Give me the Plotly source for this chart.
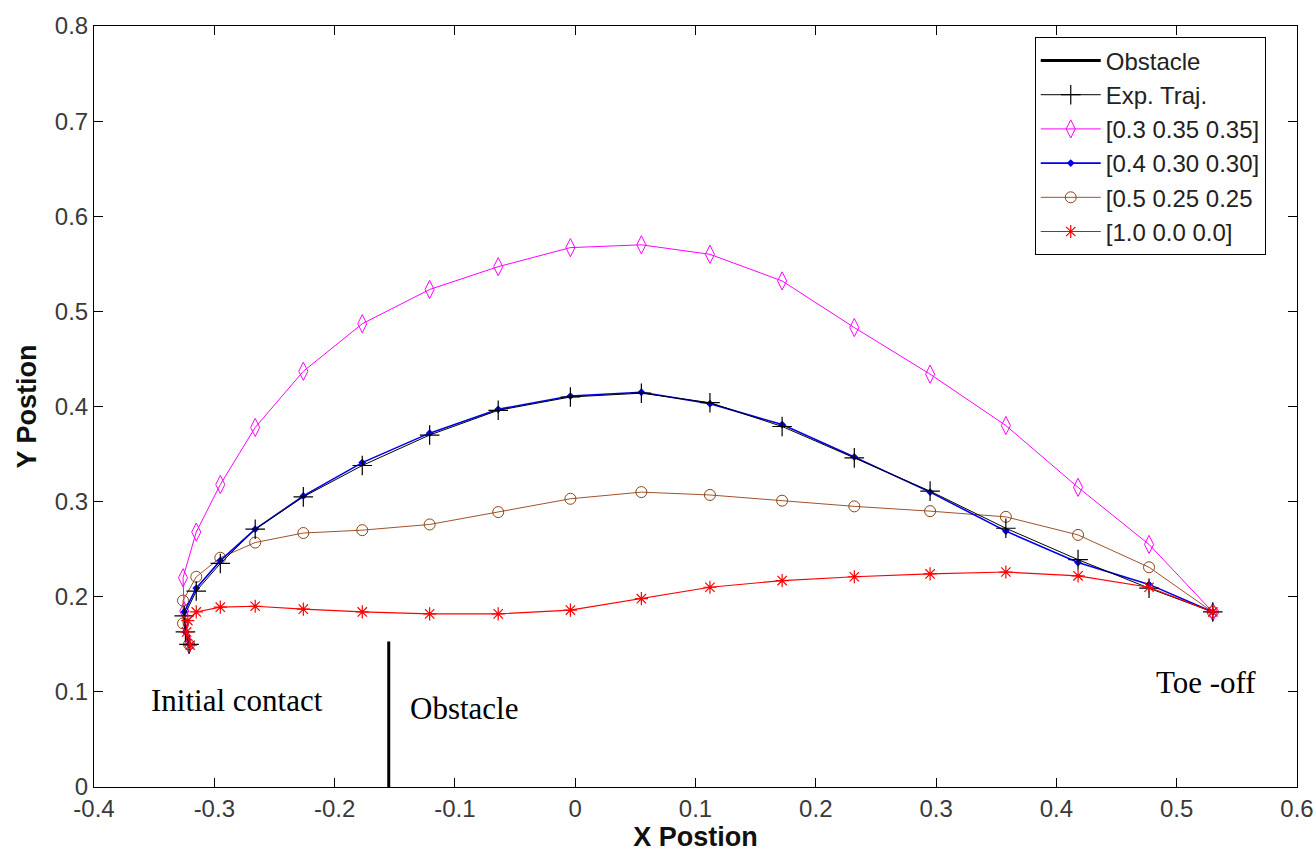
import plotly.graph_objects as go

# Obstacle position
obstacle_x = [-0.155, -0.155]
obstacle_y = [0.0, 0.153]

# Experimental trajectory
exp_x = [-0.321, -0.324, -0.325, -0.315, -0.295, -0.266, -0.226, -0.177, -0.121, -0.064,
         -0.004, 0.055, 0.112, 0.172, 0.232, 0.295, 0.358, 0.418, 0.477, 0.530]
exp_y = [0.150, 0.163, 0.180, 0.206, 0.235, 0.271, 0.305, 0.338, 0.370, 0.396,
         0.410, 0.414, 0.404, 0.379, 0.346, 0.311, 0.272, 0.239, 0.209, 0.184]

# Weighting [0.3 0.35 0.35]
w1_x = [-0.321, -0.325, -0.326, -0.315, -0.295, -0.266, -0.226, -0.177, -0.121, -0.064,
        -0.004, 0.055, 0.112, 0.172, 0.232, 0.295, 0.358, 0.418, 0.477, 0.530]
w1_y = [0.150, 0.185, 0.220, 0.268, 0.318, 0.378, 0.437, 0.487, 0.523, 0.547,
        0.567, 0.570, 0.560, 0.532, 0.483, 0.434, 0.380, 0.315, 0.255, 0.184]

# Weighting [0.4 0.30 0.30]
w2_x = [-0.321, -0.324, -0.325, -0.315, -0.295, -0.266, -0.226, -0.177, -0.121, -0.064,
        -0.004, 0.055, 0.112, 0.172, 0.232, 0.295, 0.358, 0.418, 0.477, 0.530]
w2_y = [0.150, 0.163, 0.184, 0.209, 0.238, 0.271, 0.306, 0.341, 0.372, 0.397,
        0.411, 0.415, 0.403, 0.381, 0.347, 0.310, 0.269, 0.236, 0.213, 0.184]

# Weighting [0.5 0.25 0.25]
w3_x = [-0.321, -0.326, -0.326, -0.315, -0.295, -0.266, -0.226, -0.177, -0.121, -0.064,
        -0.004, 0.055, 0.112, 0.172, 0.232, 0.295, 0.358, 0.418, 0.477, 0.530]
w3_y = [0.150, 0.172, 0.196, 0.221, 0.241, 0.257, 0.267, 0.270, 0.276, 0.289,
        0.303, 0.310, 0.307, 0.301, 0.295, 0.290, 0.284, 0.265, 0.231, 0.184]

# Weighting [1.0 0.0 0.0]
w4_x = [-0.320, -0.323, -0.322, -0.315, -0.295, -0.266, -0.226, -0.177, -0.121, -0.064,
        -0.004, 0.055, 0.112, 0.172, 0.232, 0.295, 0.358, 0.418, 0.477, 0.530]
w4_y = [0.149, 0.163, 0.175, 0.184, 0.189, 0.190, 0.187, 0.184, 0.182, 0.182,
        0.186, 0.198, 0.210, 0.217, 0.221, 0.224, 0.226, 0.222, 0.210, 0.184]

x_ticks = [-0.4, -0.3, -0.2, -0.1, 0, 0.1, 0.2, 0.3, 0.4, 0.5, 0.6]
x_tick_text = ["-0.4", "-0.3", "-0.2", "-0.1", "0", "0.1", "0.2", "0.3", "0.4", "0.5", "0.6"]
y_ticks = [0, 0.1, 0.2, 0.3, 0.4, 0.5, 0.6, 0.7, 0.8]
y_tick_text = ["0", "0.1", "0.2", "0.3", "0.4", "0.5", "0.6", "0.7", "0.8"]

fig = go.Figure()

fig.add_trace(go.Scatter(
    x=obstacle_x, y=obstacle_y, mode="lines", name="Obstacle",
    line=dict(color="black", width=3)))

fig.add_trace(go.Scatter(
    x=w1_x, y=w1_y, mode="lines+markers", name="[0.3 0.35 0.35]",
    line=dict(color="#ff00ff", width=1),
    marker=dict(symbol="diamond-tall-open", size=13, color="#ff00ff",
                line=dict(width=1, color="#ff00ff"))))

fig.add_trace(go.Scatter(
    x=w3_x, y=w3_y, mode="lines+markers", name="[0.5 0.25 0.25",
    line=dict(color="#a0522d", width=1),
    marker=dict(symbol="circle-open", size=11, color="#8b4513",
                line=dict(width=1, color="#8b4513"))))

fig.add_trace(go.Scatter(
    x=w2_x, y=w2_y, mode="lines+markers", name="[0.4 0.30 0.30]",
    line=dict(color="#0000ee", width=1.6),
    marker=dict(symbol="diamond", size=6, color="#0000ee")))

fig.add_trace(go.Scatter(
    x=exp_x, y=exp_y, mode="lines+markers", name="Exp. Traj.",
    line=dict(color="black", width=1),
    marker=dict(symbol="cross-thin-open", size=14, color="black",
                line=dict(width=1.2, color="black"))))

fig.add_trace(go.Scatter(
    x=w4_x, y=w4_y, mode="lines+markers", name="[1.0 0.0 0.0]",
    line=dict(color="#ff0000", width=1.2),
    marker=dict(symbol="asterisk-open", size=11, color="#ff0000",
                line=dict(width=1.2, color="#ff0000"))))

legend_order = ["Obstacle", "Exp. Traj.", "[0.3 0.35 0.35]", "[0.4 0.30 0.30]",
                "[0.5 0.25 0.25", "[1.0 0.0 0.0]"]
for tr in fig.data:
    tr.legendrank = legend_order.index(tr.name) + 1

axis_common = dict(
    showgrid=False, zeroline=False, showline=True, linecolor="black", linewidth=1,
    mirror="ticks", ticks="inside", ticklen=9, tickcolor="black", tickwidth=1,
    tickfont=dict(family="Liberation Sans, Arial", size=24, color="#3a3a3a"),
    automargin=False,
)

title_font = dict(family="Liberation Sans, Arial", size=27, color="#111")
fig.update_xaxes(range=[-0.4, 0.6], tickvals=x_ticks, ticktext=x_tick_text,
                 title=dict(text="<b>X Postion</b>", standoff=4, font=title_font),
                 **axis_common)
fig.update_yaxes(range=[0, 0.8], tickvals=y_ticks, ticktext=y_tick_text,
                 title=dict(text="<b>Y Postion</b>", standoff=10, font=title_font),
                 **axis_common)

annot_font = dict(family="Liberation Serif, Times New Roman", size=31, color="black")
fig.add_annotation(x=-0.2815, y=0.091, text="Initial contact", showarrow=False, font=annot_font)
fig.add_annotation(x=-0.0925, y=0.083, text="Obstacle", showarrow=False, font=annot_font)
fig.add_annotation(x=0.524, y=0.110, text="Toe -off", showarrow=False, font=annot_font)

fig.update_layout(
    width=1316, height=854,
    margin=dict(l=94, r=19, t=26, b=67),
    paper_bgcolor="white", plot_bgcolor="white",
    showlegend=True,
    legend=dict(x=0.782, y=0.985, xanchor="left", yanchor="top",
                bgcolor="white", bordercolor="black", borderwidth=1,
                font=dict(family="Liberation Sans, Arial", size=24, color="#222"),
                tracegroupgap=0, itemwidth=60),
)

fig.write_html("out.html")
